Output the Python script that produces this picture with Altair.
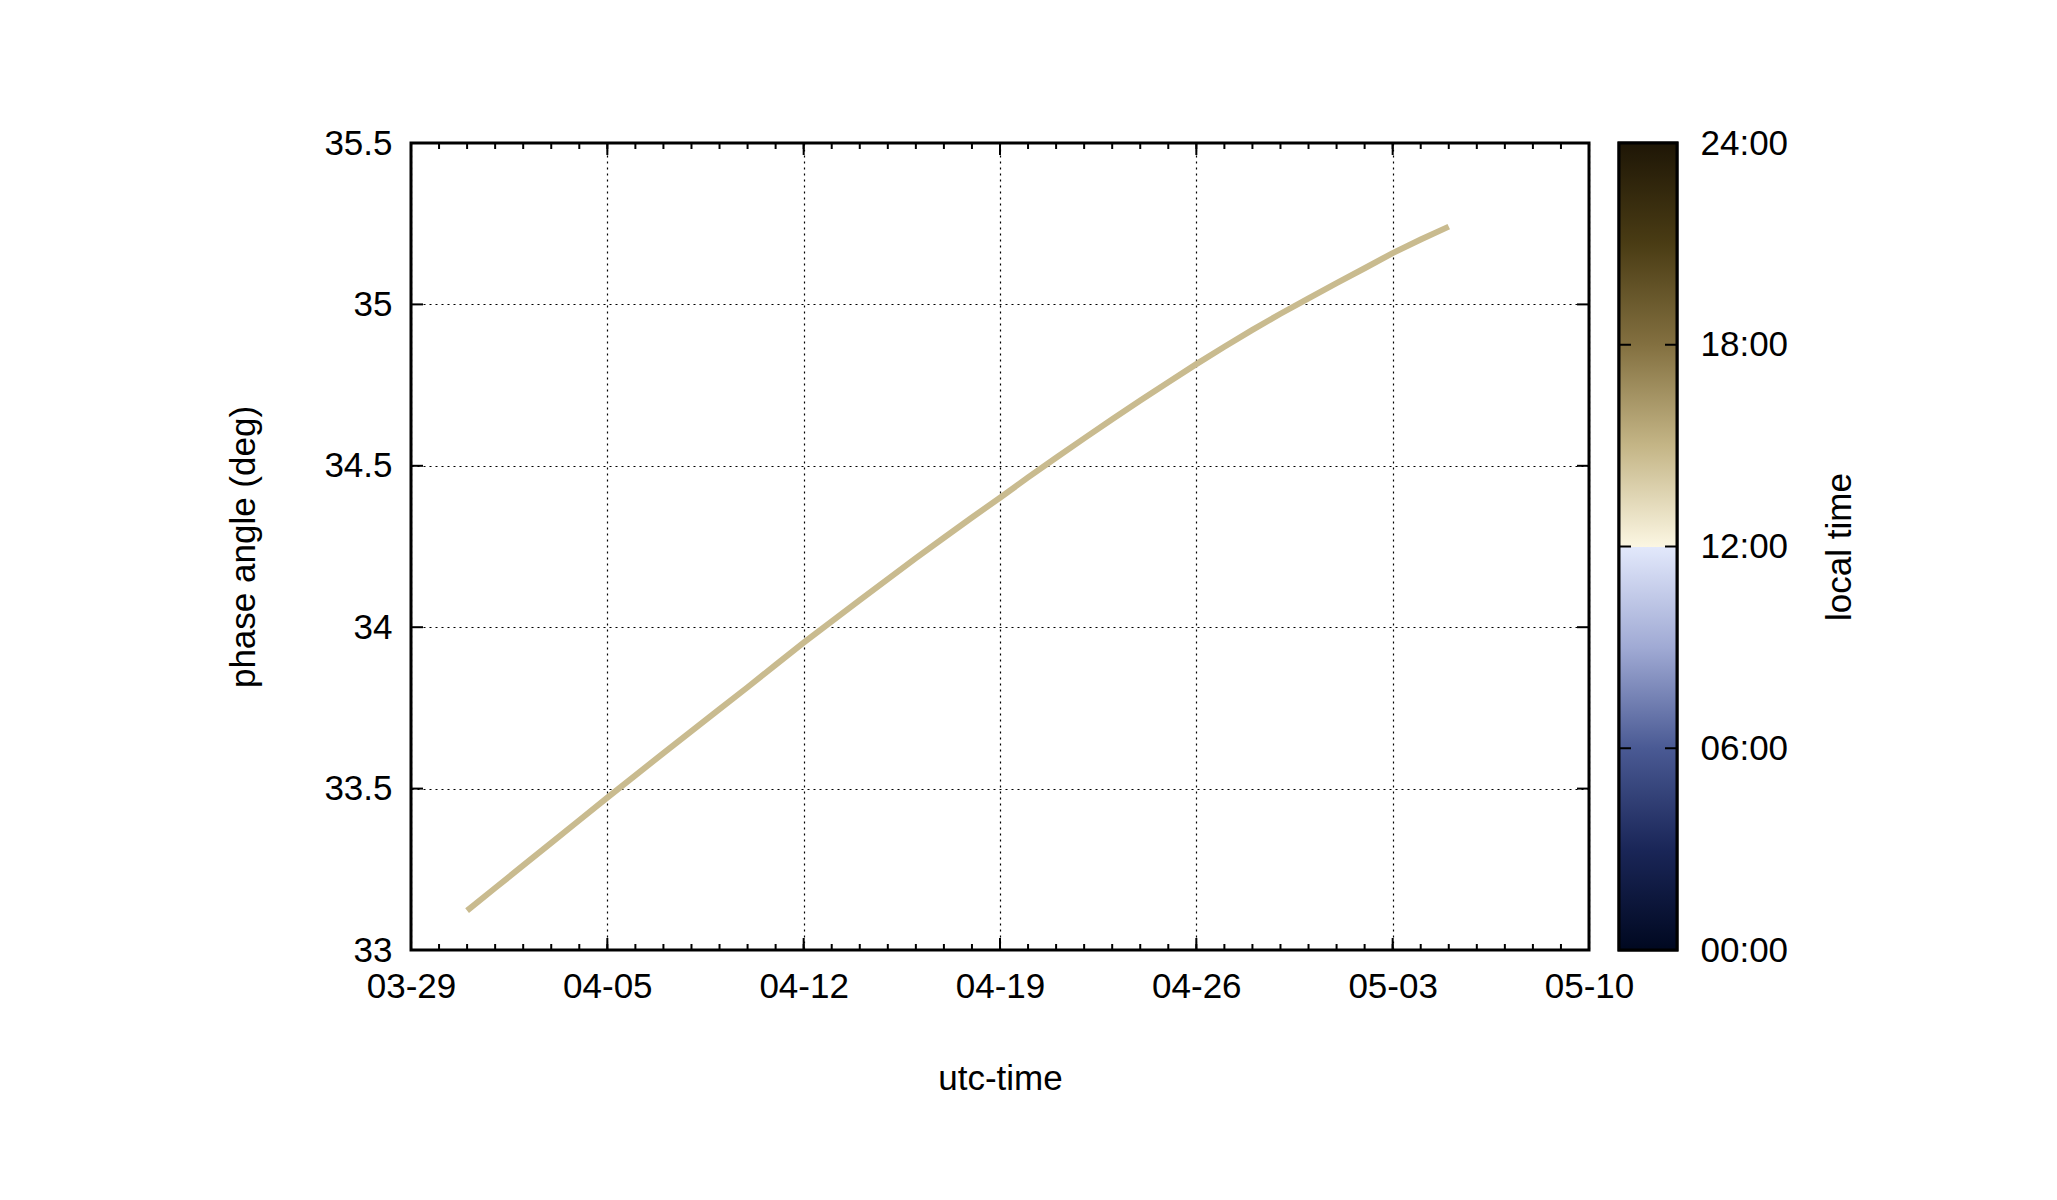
import altair as alt
import pandas as pd

# ---- data ----
dates = [
    "2015-03-31", "2015-04-01", "2015-04-02", "2015-04-03", "2015-04-04", "2015-04-05",
    "2015-04-06", "2015-04-07", "2015-04-08", "2015-04-09", "2015-04-10", "2015-04-11",
    "2015-04-12", "2015-04-13", "2015-04-14", "2015-04-15", "2015-04-16", "2015-04-17",
    "2015-04-18", "2015-04-19", "2015-04-20", "2015-04-21", "2015-04-22", "2015-04-23",
    "2015-04-24", "2015-04-25", "2015-04-26", "2015-04-27", "2015-04-28", "2015-04-29",
    "2015-04-30", "2015-05-01", "2015-05-02", "2015-05-03", "2015-05-04", "2015-05-05",
]
phase = [
    33.122, 33.192, 33.262, 33.332, 33.402, 33.472,
    33.541, 33.610, 33.678, 33.746, 33.814, 33.883,
    33.952, 34.018, 34.084, 34.149, 34.214, 34.277,
    34.340, 34.401, 34.464, 34.525, 34.585, 34.644,
    34.702, 34.759, 34.815, 34.869, 34.921, 34.971,
    35.019, 35.066, 35.112, 35.159, 35.201, 35.241,
]

x_major = ["2015-03-29", "2015-04-05", "2015-04-12", "2015-04-19",
           "2015-04-26", "2015-05-03", "2015-05-10"]
x_minor = [d.strftime("%Y-%m-%d") for d in pd.date_range("2015-03-29", "2015-05-10", freq="D")]
y_ticks = [33, 33.5, 34, 34.5, 35, 35.5]
y_inner = [33.5, 34, 34.5, 35]
cb_ticks = [0, 6, 12, 18, 24]
cb_inner = [6, 12, 18]

line_color = "#c9bb8f"
cb_stops = [
    (0.0, "#000820"), (0.125, "#1a2658"), (0.25, "#4a5a94"), (0.375, "#a0aad4"),
    (0.4995, "#e2e8fb"), (0.5, "#fbf6e2"), (0.625, "#c4b586"), (0.75, "#837040"),
    (0.875, "#4a3c14"), (1.0, "#1e1606"),
]

W, H = 1178, 807
CBW = 58
FS = 35
FONT = "Liberation Sans"
TL = 12   # major tick length
TM = 6    # minor tick length


def dt(s):
    y, m, d = (int(v) for v in s.split("-"))
    return alt.DateTime(year=y, month=m, date=d, utc=True)


df = pd.DataFrame({"date": dates, "phase": phase})
major_df = pd.DataFrame({"date": x_major})
minor_df = pd.DataFrame({"date": x_minor})
yin_df = pd.DataFrame({"phase": y_inner})

xscale = alt.Scale(type="utc", domain=[dt(x_major[0]), dt(x_major[-1])], nice=False)
yscale = alt.Scale(domain=[33, 35.5], nice=False, zero=False)

xaxis = alt.Axis(
    values=[dt(s) for s in x_major],
    labelExpr="utcFormat(datum.value, '%m-%d')",
    title="utc-time", ticks=False, domain=False,
    grid=True, gridDash=[2, 4], gridColor="black", gridWidth=1.2, gridOpacity=1,
    labelFontSize=FS, labelFont=FONT, labelColor="black", labelPadding=19,
    labelFlush=False, labelOverlap=False,
    titleFontSize=FS, titleFont=FONT, titleColor="black", titleFontWeight="normal",
    titlePadding=57,
)
yaxis = alt.Axis(
    values=y_ticks, format="~g", title="phase angle (deg)", ticks=False, domain=False,
    grid=True, gridDash=[2, 4], gridColor="black", gridWidth=1.2, gridOpacity=1,
    labelFontSize=FS, labelFont=FONT, labelColor="black", labelPadding=19,
    labelFlush=False, labelOverlap=False,
    titleFontSize=FS, titleFont=FONT, titleColor="black", titleFontWeight="normal",
    titlePadding=62,
)

line = alt.Chart(df).mark_line(color=line_color, strokeWidth=6).encode(
    x=alt.X("date:T", scale=xscale, axis=xaxis),
    y=alt.Y("phase:Q", scale=yscale, axis=yaxis),
)

tick_style = dict(color="black", strokeWidth=2)
xb_major = alt.Chart(major_df).mark_rule(**tick_style).encode(
    x="date:T", y=alt.value(H), y2=alt.value(H - TL))
xt_major = alt.Chart(major_df).mark_rule(**tick_style).encode(
    x="date:T", y=alt.value(0), y2=alt.value(TL))
xb_minor = alt.Chart(minor_df).mark_rule(**tick_style).encode(
    x="date:T", y=alt.value(H), y2=alt.value(H - TM))
xt_minor = alt.Chart(minor_df).mark_rule(**tick_style).encode(
    x="date:T", y=alt.value(0), y2=alt.value(TM))
yl = alt.Chart(yin_df).mark_rule(**tick_style).encode(
    y="phase:Q", x=alt.value(0), x2=alt.value(TL))
yr = alt.Chart(yin_df).mark_rule(**tick_style).encode(
    y="phase:Q", x=alt.value(W - TL), x2=alt.value(W))

main = alt.layer(line, xb_major, xt_major, xb_minor, xt_minor, yl, yr).properties(
    width=W, height=H)

# ---- colour bar ----
gradient = alt.LinearGradient(
    gradient="linear",
    stops=[alt.GradientStop(offset=o, color=c) for o, c in cb_stops],
    x1=0, x2=0, y1=1, y2=0,
)
cb_df = pd.DataFrame({"lt": [cb_ticks[0]], "lt2": [cb_ticks[-1]]})
cb_in_df = pd.DataFrame({"lt": cb_inner})

cb_axis = alt.Axis(
    orient="right", values=cb_ticks,
    labelExpr="(datum.value < 10 ? '0' : '') + datum.value + ':00'",
    title="local time", titleAngle=270, ticks=False, domain=False, grid=False,
    labelFontSize=FS, labelFont=FONT, labelColor="black", labelPadding=23,
    labelFlush=False, labelOverlap=False,
    titleFontSize=FS, titleFont=FONT, titleColor="black", titleFontWeight="normal",
    titlePadding=35, titleBaseline="top",
)
cb_rect = alt.Chart(cb_df).mark_rect(fill=gradient, stroke="black", strokeWidth=3).encode(
    y=alt.Y("lt:Q", scale=alt.Scale(domain=[0, 24], nice=False, zero=False), axis=cb_axis),
    y2="lt2:Q",
    x=alt.value(0), x2=alt.value(CBW),
)
cb_l = alt.Chart(cb_in_df).mark_rule(**tick_style).encode(
    y="lt:Q", x=alt.value(0), x2=alt.value(TL))
cb_r = alt.Chart(cb_in_df).mark_rule(**tick_style).encode(
    y="lt:Q", x=alt.value(CBW - TL), x2=alt.value(CBW))
cbar = alt.layer(cb_rect, cb_l, cb_r).properties(width=CBW, height=H)

chart = alt.hconcat(main, cbar, spacing=30, bounds="flush").properties(
    padding={"left": 217, "top": 116, "right": 10, "bottom": 10},
    background="white",
).configure_view(stroke="black", strokeWidth=3)

chart.save("out.html", embed_options={"renderer": "svg", "actions": False})
